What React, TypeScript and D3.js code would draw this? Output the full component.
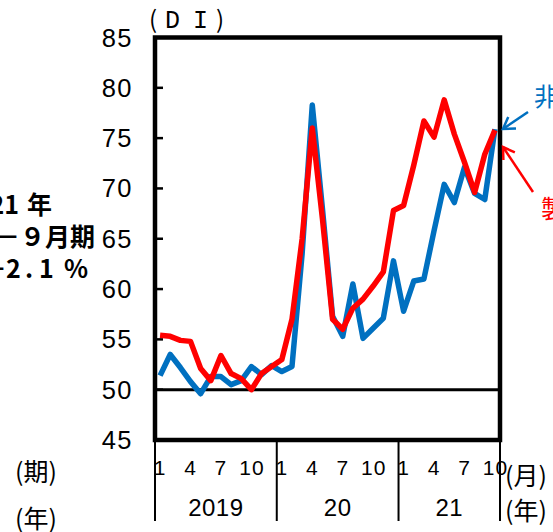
import React from "react";
import * as d3 from "d3";

// ---- data ----
const years = ["2019", "20", "21"];
const monthsPerYear = [12, 12, 10];
const monthTicks = [1, 4, 7, 10];
const yTicks = [45, 50, 55, 60, 65, 70, 75, 80, 85];

// 非製造業 (blue), Jan 2019 – Oct 2021
const nonManufacturing = [
  51.4, 53.5, 52.2, 50.8, 49.6, 51.3, 51.3, 50.5, 50.9, 52.3, 51.5, 52.4,
  51.8, 52.3, 63.5, 78.3, 68.0, 57.3, 55.3, 60.5, 55.1, 56.1, 57.1, 62.8,
  57.8, 60.8, 61.0, 65.8, 70.4, 68.6, 72.1, 69.5, 68.9, 75.9,
];
// 製造業 (red)
const manufacturing = [
  55.4, 55.3, 54.9, 54.8, 52.1, 50.9, 53.4, 51.6, 51.1, 50.0, 51.6, 52.3,
  53.0, 57.0, 65.0, 76.0, 67.0, 57.0, 56.0, 58.1, 59.0, 60.3, 61.7, 67.8,
  68.3, 72.3, 76.7, 75.1, 78.8, 75.4, 72.6, 69.6, 73.4, 75.8,
];

const BLUE = "#0070C0";
const RED = "#FF0000";
const NARROW = "'Liberation Sans Narrow', 'Arial Narrow', 'Liberation Sans', sans-serif";
const JP = "'Noto Sans CJK JP', 'Noto Sans', sans-serif";
const MONO = "'Liberation Mono', 'DejaVu Sans Mono', monospace";

const L = 155, R = 500, T = 37.5, B = 440;

function arrowHead(tipX: number, tipY: number, tailX: number, tailY: number, len = 13, ang = 32) {
  const a = Math.atan2(tailY - tipY, tailX - tipX);
  const r = (ang * Math.PI) / 180;
  const p1 = [tipX + len * Math.cos(a - r), tipY + len * Math.sin(a - r)];
  const p2 = [tipX + len * Math.cos(a + r), tipY + len * Math.sin(a + r)];
  return `M${p1[0]},${p1[1]}L${tipX},${tipY}L${p2[0]},${p2[1]}`;
}

export default function App() {
  const n = nonManufacturing.length;
  const idx = d3.range(n);
  const x = d3.scalePoint<number>().domain(idx).range([L, R]).padding(0.5);
  const y = d3.scaleLinear().domain([45, 85]).range([B, T]);
  const step = x.step();

  const line = d3
    .line<number>()
    .x((_, i) => x(i)!)
    .y((d) => y(d));

  // year boundaries
  const starts: number[] = [];
  let acc = 0;
  monthsPerYear.forEach((m) => {
    starts.push(acc);
    acc += m;
  });
  const boundaries = [...starts.map((s) => L + s * step), R];

  return (
    <svg
      width={553}
      height={532}
      style={{ position: "absolute", left: 0, top: 0, background: "#fff" }}
    >
      {/* left cut-off annotation */}
      <g fontFamily={JP} fontWeight={700} fontSize={25} fill="#000">
        <text y={214}>
          <tspan x={19} textAnchor="end">2021</tspan>
          <tspan x={27}>年</tspan>
        </text>
        <text x={95} y={246} textAnchor="end">7－９月期</text>
        <text y={278}>
          <tspan x={-18}>＋</tspan>
          <tspan x={6}>2</tspan>
          <tspan x={25}>.</tspan>
          <tspan x={39}>1</tspan>
          <tspan x={64}>%</tspan>
        </text>
      </g>

      {/* (DI) */}
      <text y={28} fontFamily={JP} fontSize={24}>
        <tspan x={149}>(</tspan>
        <tspan x={165} fontFamily={MONO} fontSize={25}>D</tspan>
        <tspan x={193} fontFamily={MONO} fontSize={25}>I</tspan>
        <tspan x={216}>)</tspan>
      </text>

      {/* y tick labels */}
      <g fontFamily={NARROW} fontSize={25.5} letterSpacing={1.5} textAnchor="end">
        {yTicks.map((t) => (
          <text key={t} x={133} y={y(t) + 9}>{t}</text>
        ))}
      </g>

      {/* inward ticks */}
      {yTicks
        .filter((t) => t > 45 && t < 85)
        .map((t) => (
          <line key={t} x1={L} x2={L + 8} y1={y(t)} y2={y(t)} stroke="#000" strokeWidth={2.5} />
        ))}

      {/* 50 reference line */}
      <line x1={L} x2={R} y1={y(50)} y2={y(50)} stroke="#000" strokeWidth={3} />

      {/* series */}
      <path d={line(nonManufacturing)!} fill="none" stroke={BLUE} strokeWidth={5.5} strokeLinejoin="round" />
      <path d={line(manufacturing)!} fill="none" stroke={RED} strokeWidth={5.5} strokeLinejoin="round" />

      {/* frame */}
      <rect x={L} y={T} width={R - L} height={B - T} fill="none" stroke="#000" strokeWidth={4.5} />

      {/* x axis separators */}
      {boundaries.map((bx, i) => (
        <line key={i} x1={bx} x2={bx} y1={B} y2={521} stroke="#000" strokeWidth={2} />
      ))}

      {/* month labels */}
      <g fontFamily={NARROW} fontSize={21} letterSpacing={1} textAnchor="middle">
        {starts.map((s, yi) =>
          monthTicks
            .filter((m) => m <= monthsPerYear[yi])
            .map((m) => (
              <text key={`${yi}-${m}`} x={x(s + m - 1)! + (m >= 10 ? 0.5 : 0)} y={475}>
                {m}
              </text>
            ))
        )}
      </g>

      {/* year labels */}
      <g fontFamily={NARROW} fontSize={24} letterSpacing={0.5} textAnchor="middle">
        {years.map((yr, i) => (
          <text key={yr} x={(boundaries[i] + boundaries[i + 1]) / 2} y={516}>
            {yr}
          </text>
        ))}
      </g>

      {/* axis unit labels */}
      <g fontFamily={JP} fontSize={25}>
        <text x={15} y={481}>(期)</text>
        <text x={15} y={528}>(年)</text>
        <text x={505} y={485}>(月)</text>
        <text x={505} y={520}>(年)</text>
      </g>

      {/* series annotations */}
      <text x={534} y={106} fontFamily={JP} fontSize={25} fill={BLUE}>非製造業</text>
      <line x1={528} y1={112} x2={503} y2={129} stroke={BLUE} strokeWidth={2.5} />
      <path d={arrowHead(503, 129, 528, 112)} fill="none" stroke={BLUE} strokeWidth={2.5} />

      <text x={541} y={218} fontFamily={JP} fontSize={25} fill={RED}>製造業</text>
      <line x1={533} y1={192} x2={503} y2={147} stroke={RED} strokeWidth={2.5} />
      <path d={arrowHead(503, 147, 533, 192)} fill="none" stroke={RED} strokeWidth={2.5} />
    </svg>
  );
}
